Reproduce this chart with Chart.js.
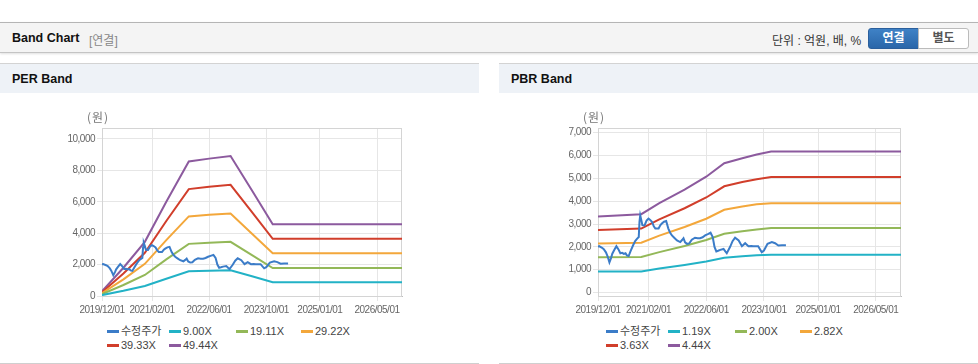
<!DOCTYPE html>
<html><head><meta charset="utf-8">
<script src="https://cdn.jsdelivr.net/npm/chart.js@4"></script>
<style>
html,body{margin:0;padding:0;background:#fff;}
body{width:978px;height:364px;position:relative;overflow:hidden;font-family:Arial,'Liberation Sans','Noto Sans CJK KR',sans-serif;}
.topbar{position:absolute;left:0;top:22px;width:978px;height:29px;background:#f4f4f4;border-top:1px solid #b5b5b5;border-bottom:1px solid #c4c4c4;box-shadow:0 1px 2px rgba(0,0,0,0.12);}
.title{position:absolute;left:12px;top:8px;font-size:12.5px;font-weight:bold;color:#111;}
.sub{position:absolute;left:89px;top:8px;font-size:12px;color:#888;}
.unit{position:absolute;left:772px;top:8px;font-size:12px;color:#333;}
.btn{position:absolute;top:5px;height:19px;width:49px;font-size:12px;font-weight:bold;text-align:center;line-height:19px;}
.b1{left:868px;background:linear-gradient(#3f82c6,#2a66a9);color:#fff;border:1px solid #2b5f9c;border-radius:3px 0 0 3px;}
.b2{left:918px;background:#fff;color:#555;border:1px solid #bbb;border-radius:0 3px 3px 0;}
.panel{position:absolute;top:63px;width:479px;height:299px;border-top:1px solid #d3d3d3;border-bottom:1px solid #cfcfcf;background:#fff;}
.phead{position:absolute;left:0;top:0;width:479px;height:29px;background:#eef2f7;}
.ptitle{position:absolute;left:12px;top:8px;font-size:12.5px;font-weight:bold;color:#111;}
canvas{position:absolute;left:0;top:29px;}
.leg{position:absolute;font-size:11px;color:#444;white-space:nowrap;line-height:12px;}
.leg i{display:inline-block;width:12px;height:3px;vertical-align:middle;margin-right:2px;position:relative;top:-1px;}
</style></head>
<body>
<div class="topbar">
  <div class="title">Band Chart</div><div class="sub">[연결]</div>
  <div class="unit">단위 : 억원, 배, %</div>
  <div class="btn b1">연결</div><div class="btn b2">별도</div>
</div>
<div class="panel" id="p1" style="left:0;"><div class="phead"><div class="ptitle">PER Band</div></div><canvas id="c1" width="479" height="230"></canvas></div>
<div class="panel" id="p2" style="left:499px;"><div class="phead"><div class="ptitle">PBR Band</div></div><canvas id="c2" width="479" height="230"></canvas></div>
<script>
// ---- data ----
const tickDates = ['2019/12/01','2021/02/01','2022/06/01','2023/10/01','2025/01/01','2026/05/01'];
const axisStart = '2019/12/01';
const axisEnd = '2026/12/01';

const priceName = '수정주가';
const priceDates = ['2019/12/01','2019/12/10','2020/01/05','2020/01/19','2020/02/07','2020/02/20','2020/03/06','2020/03/20','2020/03/30','2020/04/15','2020/05/04','2020/05/20','2020/06/07','2020/06/22','2020/07/06','2020/07/20','2020/08/01','2020/08/16','2020/09/01','2020/09/22','2020/10/10','2020/10/25','2020/11/10','2020/11/16','2020/11/22','2020/12/01','2020/12/10','2020/12/28','2021/01/15','2021/02/01','2021/02/15','2021/03/01','2021/03/15','2021/03/28','2021/04/25','2021/05/10','2021/05/22','2021/06/10','2021/06/28','2021/07/16','2021/08/01','2021/08/16','2021/09/05','2021/09/28','2021/10/25','2021/11/10','2021/11/22','2021/12/05','2021/12/22','2022/01/10','2022/02/01','2022/02/28','2022/03/20','2022/04/10','2022/05/01','2022/05/22','2022/06/19','2022/07/07','2022/07/25','2022/08/10','2022/08/25','2022/09/10','2022/09/28','2022/10/25','2022/11/10','2022/11/22','2022/12/19','2023/01/10','2023/02/01','2023/03/01','2023/03/28','2023/04/25','2023/05/22','2023/06/15','2023/07/04','2023/08/13','2023/09/13','2023/10/01','2023/11/01','2023/12/07','2024/01/04','2024/02/01','2024/03/01','2024/04/04'];
const priceValues = [2020,2030,1960,1900,1760,1600,1320,1520,1700,1850,2030,1900,1720,1740,1690,1720,1630,1600,1800,2060,2250,2350,2430,3100,3380,3180,2950,2940,3150,3240,3180,3090,2900,2800,2800,2950,3020,3100,3130,2800,2620,2500,2400,2280,2210,2300,2380,2200,2130,2150,2310,2400,2380,2380,2420,2500,2570,2620,2430,2000,1800,1830,1870,1910,1800,1720,1990,2250,2400,2280,2030,2160,2030,2040,2030,2030,1765,1840,2130,2210,2160,2060,2070,2070];

const perBandDates = ['2019/12/01','2020/06/01','2020/12/01','2021/06/01','2021/12/10','2022/06/01','2022/12/01','2023/06/01','2023/11/25','2026/12/01'];
const perNames = ['9.00X','19.11X','29.22X','39.33X','49.44X'];
const per900  = [55,330,640,1100,1580,1610,1640,1260,880,880];
const per1911 = [115,700,1340,2330,3320,3390,3450,2600,1780,1780];
const per2922 = [180,1060,2050,3560,5070,5170,5260,3970,2720,2720];
const per3933 = [240,1430,2750,4780,6810,6960,7080,5340,3640,3640];
const per4944 = [300,1800,3450,6000,8570,8750,8920,6720,4570,4570];

const pbrBandDates = ['2019/12/01','2020/12/01','2021/05/01','2021/12/01','2022/06/01','2022/11/01','2023/04/01','2023/08/01','2023/12/01','2026/12/01'];
const pbrNames = ['1.19X','2.00X','2.82X','3.63X','4.44X'];
const pbr119 = [920,925,1050,1210,1360,1520,1590,1630,1660,1660];
const pbr200 = [1540,1555,1770,2040,2300,2570,2680,2760,2820,2820];
const pbr282 = [2150,2180,2490,2870,3230,3620,3770,3860,3910,3910];
const pbr363 = [2740,2800,3200,3690,4160,4650,4840,4960,5060,5060];
const pbr444 = [3330,3430,3910,4500,5070,5660,5880,6040,6170,6170];

const perYTicks = [0,2000,4000,6000,8000,10000];
const pbrYTicks = [0,1000,2000,3000,4000,5000,6000,7000];

const colors = ['#3b7cc8','#22b2c6','#93b858','#f3a73b','#d13e2b','#8c5a9e'];

// ---- helpers ----
function toMonth(s){const p=s.split('/').map(Number);return (p[0]-2019)*12+(p[1]-12)+(p[2]-1)/30;}
function pts(dates, vals){return dates.map((d,i)=>({x:toMonth(d),y:vals[i]}));}
const tickMonths = tickDates.map(toMonth);

const framePlugin = {
  id:'frame',
  beforeLayout(chart){ chart.ctx.letterSpacing='-0.5px'; },
  beforeDraw(chart){ chart.ctx.letterSpacing='-0.5px'; },
  beforeDatasetsDraw(chart){
    const a=chart.chartArea, c=chart.ctx;
    c.save(); c.strokeStyle='#d4d4d4'; c.lineWidth=1;
    c.strokeRect(Math.round(a.left)+0.5, Math.round(a.top)+0.5, Math.round(a.right-a.left)-1, Math.round(a.bottom-a.top));
    c.restore();
  },
  afterDraw(chart){
    const a=chart.chartArea, c=chart.ctx;
    c.save(); c.letterSpacing='1px'; c.fillStyle='#777'; c.font="12px 'Noto Sans CJK KR', sans-serif";
    c.textAlign='center'; c.textBaseline='middle';
    c.fillText('(원)', a.left-4, a.top-11);
    c.restore();
  }
};

const tickFont = {family:"'Liberation Sans',Arial,sans-serif",size:10};

function makeChart(id, bandDates, bands, names, yMin, yMax, yTicks, padLeft, legendEl){
  const datasets=[{label:priceName,data:pts(priceDates,priceValues),borderColor:colors[0],backgroundColor:colors[0]}];
  bands.forEach((b,i)=>datasets.push({label:names[i],data:pts(bandDates,b),borderColor:colors[i+1],backgroundColor:colors[i+1]}));
  const chart = new Chart(document.getElementById(id),{
    type:'line',
    data:{datasets},
    options:{
      responsive:false, animation:false, devicePixelRatio:1,
      layout:{padding:{left:padLeft,right:77,top:35,bottom:7}},
      elements:{line:{borderWidth:2,tension:0},point:{radius:0,hoverRadius:0}},
      plugins:{legend:{display:false},tooltip:{enabled:false}},
      scales:{
        x:{type:'linear',min:toMonth(axisStart),max:toMonth(axisEnd),
           afterBuildTicks:(s)=>{s.ticks=tickMonths.map(v=>({value:v}));},
           afterFit:(s)=>{s.height=20;},
           ticks:{autoSkip:false,maxRotation:0,padding:3,color:'#666',font:tickFont,
             callback:(v)=>{const k=tickMonths.indexOf(v);return k>=0?tickDates[k]:'';}},
           grid:{color:'#e6e6e6',tickLength:5,drawTicks:true},
           border:{color:'#bdbdbd'}},
        y:{type:'linear',min:yMin,max:yMax,
           afterBuildTicks:(s)=>{s.ticks=yTicks.map(v=>({value:v}));},
           afterFit:(s)=>{s.width=60;},
           ticks:{padding:2,color:'#666',font:tickFont,
             callback:(v)=>v.toLocaleString('en-US')},
           grid:{color:'#e6e6e6',tickLength:5},
           border:{color:'#bdbdbd'}}
      }
    },
    plugins:[framePlugin]
  });
  // HTML legend built from chart datasets
  const panel=document.getElementById(legendEl);
  const cols=[107,169,236,301];
  chart.data.datasets.forEach((ds,i)=>{
    const row=Math.floor(i/4), col=i%4;
    const d=document.createElement('div'); d.className='leg';
    d.style.left=cols[col]+'px'; d.style.top=(261+row*14)+'px';
    const m=document.createElement('i'); m.style.background=ds.borderColor;
    d.appendChild(m); d.appendChild(document.createTextNode(ds.label));
    panel.appendChild(d);
  });
  return chart;
}

makeChart('c1', perBandDates, [per900,per1911,per2922,per3933,per4944], perNames, 0, 10700, perYTicks, 42, 'p1');
makeChart('c2', pbrBandDates, [pbr119,pbr200,pbr282,pbr363,pbr444], pbrNames, -150, 7200, pbrYTicks, 39, 'p2');
</script>
</body></html>
